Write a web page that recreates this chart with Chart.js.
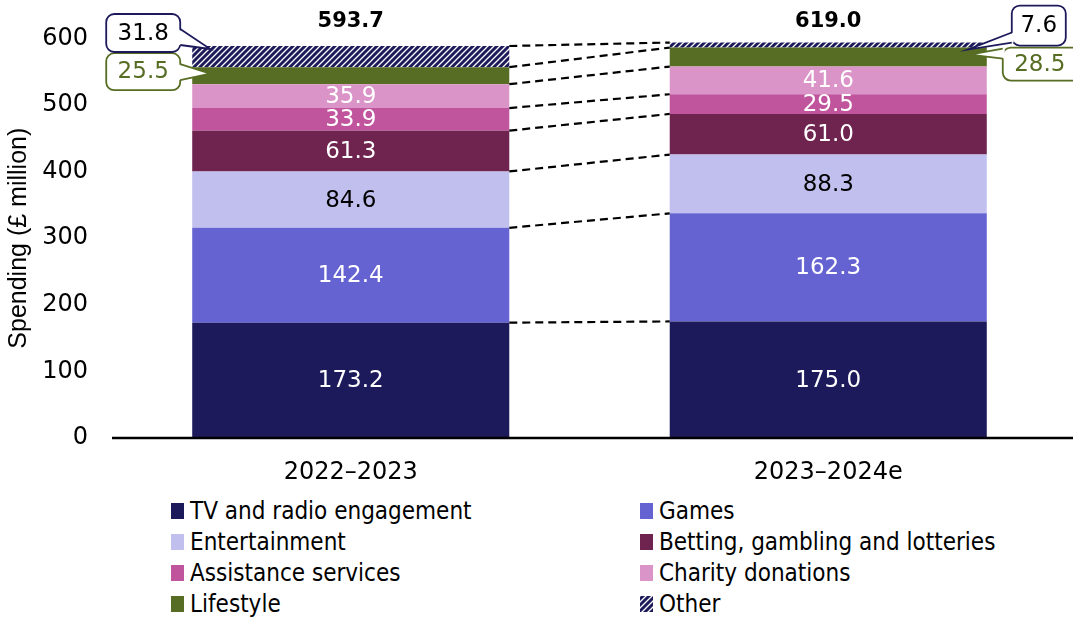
<!DOCTYPE html>
<html>
<head>
<meta charset="utf-8">
<script src="https://cdn.jsdelivr.net/npm/chart.js@4.4.1/dist/chart.umd.min.js"></script>
<style>
  body { margin: 0; background: #fff; font-family: "Liberation Sans", Arial, sans-serif; }
  #wrap { position: relative; width: 1073px; height: 617px; overflow: hidden; }
  #chartBox { position: absolute; left: 0; top: 0; width: 1073px; height: 490px; }
  #legend {
    position: absolute; left: 171px; top: 495px;
    display: grid; grid-template-columns: 469px 420px; grid-auto-rows: 31px;
    font-family: "DejaVu Sans Condensed", "DejaVu Sans", sans-serif; font-stretch: condensed;
    font-size: 24px; color: #000;
  }
  .item { display: flex; align-items: center; white-space: nowrap; }
  .sw { width: 13px; height: 16px; margin-right: 6px; flex: none; }
</style>
</head>
<body>
<div id="wrap">
  <div id="chartBox"><canvas id="spendChart"></canvas></div>
  <div id="legend"></div>
</div>
<script>
// spending by category, £ million
const years = ['2022\u20132023', '2023\u20132024e'];
const seriesNames = ['TV and radio engagement', 'Games', 'Entertainment', 'Betting, gambling and lotteries',
                     'Assistance services', 'Charity donations', 'Lifestyle', 'Other'];
const tvRadio = [173.2, 175.0];
const games = [142.4, 162.3];
const entertainment = [84.6, 88.3];
const betting = [61.3, 61.0];
const assistance = [33.9, 29.5];
const charity = [35.9, 41.6];
const lifestyle = [25.5, 28.5];
const other = [31.8, 7.6];
const totals = ['593.7', '619.0'];
const yTicks = [0, 100, 200, 300, 400, 500, 600];

const NAVY = '#1c1a5a';
const GREEN = '#576d23';
const NUM_FONT = '"DejaVu Sans", sans-serif';

// striped fill for "Other"
function makeStripes() {
    const c = document.createElement('canvas');
    c.width = 6; c.height = 6;
    const g = c.getContext('2d');
    g.fillStyle = NAVY;
    g.fillRect(0, 0, 6, 6);
    g.strokeStyle = '#fff';
    g.lineWidth = 1.3;
    g.beginPath();
    g.moveTo(-1, 7); g.lineTo(7, -1);
    g.moveTo(-4, 4); g.lineTo(4, -4);
    g.moveTo(2, 10); g.lineTo(10, 2);
    g.stroke();
    return c;
}
const stripeCanvas = makeStripes();
const stripes = document.getElementById('spendChart').getContext('2d').createPattern(stripeCanvas, 'repeat');

const values = [tvRadio, games, entertainment, betting, assistance, charity, lifestyle, other];
const colors = [NAVY, '#6563d2', '#c0bfee', '#6f234f', '#c0559e', '#db94c8', GREEN, stripes];
const labelColors = ['#fff', '#fff', '#000', '#fff', '#fff', '#fff', null, null];

Chart.defaults.font.family = '"Liberation Sans", Arial, sans-serif';
Chart.defaults.font.size = 25;
Chart.defaults.color = '#000';

// dashed links between matching segment tops
const linkPlugin = {
    id: 'links',
    afterDatasetsDraw(chart) {
        const ctx = chart.ctx;
        ctx.save();
        ctx.strokeStyle = '#000';
        ctx.lineWidth = 2.2;
        ctx.setLineDash([8, 5]);
        chart.data.datasets.forEach((ds, i) => {
            const els = chart.getDatasetMeta(i).data;
            const a = els[0], b = els[1];
            ctx.beginPath();
            ctx.moveTo(a.x + a.width / 2, a.y);
            ctx.lineTo(b.x - b.width / 2, b.y);
            ctx.stroke();
        });
        ctx.restore();
    }
};

// segment values, totals, axis line
const labelPlugin = {
    id: 'segLabels',
    afterDatasetsDraw(chart) {
        const ctx = chart.ctx;
        ctx.save();
        ctx.textAlign = 'center';
        ctx.textBaseline = 'middle';
        ctx.font = '23px ' + NUM_FONT;
        chart.data.datasets.forEach((ds, i) => {
            if (!labelColors[i]) return;
            ctx.fillStyle = labelColors[i];
            chart.getDatasetMeta(i).data.forEach((el, j) => {
                ctx.fillText(ds.data[j].toFixed(1), el.x, (el.y + el.base) / 2 + 1);
            });
        });
        ctx.fillStyle = '#000';
        ctx.font = 'bold 21px ' + NUM_FONT;
        chart.getDatasetMeta(0).data.forEach((el, j) => {
            ctx.fillText(totals[j], el.x, 22);
        });
        const y0 = chart.scales.y.getPixelForValue(0);
        ctx.lineWidth = 2.5;
        ctx.strokeStyle = '#000';
        ctx.beginPath();
        ctx.moveTo(chart.chartArea.left, y0);
        ctx.lineTo(chart.width, y0);
        ctx.stroke();
        ctx.restore();
    }
};

function drawCallout(ctx, c) {
    ctx.save();
    ctx.lineWidth = 1.8;
    ctx.strokeStyle = c.stroke;
    ctx.fillStyle = '#fff';
    ctx.beginPath();
    ctx.roundRect(c.x, c.y, c.w, c.h, 8);
    ctx.fill();
    ctx.stroke();
    const dx = c.side === 'right' ? -2 : 2;
    ctx.beginPath();
    ctx.moveTo(c.a[0] + dx, c.a[1]);
    ctx.lineTo(c.tip[0], c.tip[1]);
    ctx.lineTo(c.b[0] + dx, c.b[1]);
    ctx.closePath();
    ctx.fill();
    ctx.beginPath();
    ctx.moveTo(c.a[0], c.a[1]);
    ctx.lineTo(c.tip[0], c.tip[1]);
    ctx.lineTo(c.b[0], c.b[1]);
    ctx.stroke();
    ctx.fillStyle = c.textColor;
    ctx.font = '23px ' + NUM_FONT;
    ctx.textAlign = 'center';
    ctx.textBaseline = 'middle';
    ctx.fillText(c.text, c.tx, c.ty);
    ctx.restore();
}

// boxed labels for the two thin top segments
const calloutPlugin = {
    id: 'callouts',
    afterDraw(chart) {
        const ctx = chart.ctx;
        const lsEls = chart.getDatasetMeta(6).data;
        const otEls = chart.getDatasetMeta(7).data;

        // left bar: boxes sit to the left
        let ls = lsEls[0], ot = otEls[0];
        let edge = ls.x - ls.width / 2;
        let r = edge - 12;
        let lsTop = ls.y - 14;
        drawCallout(ctx, {
            side: 'right', x: r - 74, y: lsTop, w: 74, h: 37, stroke: GREEN, textColor: GREEN,
            a: [r, lsTop + 11], b: [r, lsTop + 27], tip: [edge + 18, (ls.y + ls.base) / 2 - 2],
            text: lifestyle[0].toFixed(1), tx: r - 37, ty: lsTop + 19
        });
        let otTop = ot.y - 32;
        drawCallout(ctx, {
            side: 'right', x: r - 74, y: otTop, w: 74, h: 38, stroke: NAVY, textColor: '#000',
            a: [r, otTop + 15], b: [r, otTop + 31], tip: [edge + 18, ot.y + 3],
            text: other[0].toFixed(1), tx: r - 37, ty: otTop + 20
        });

        // right bar: boxes sit to the right
        ls = lsEls[1]; ot = otEls[1];
        edge = ls.x + ls.width / 2;
        let l = edge + 16;
        lsTop = ls.y;
        drawCallout(ctx, {
            side: 'left', x: l, y: lsTop, w: 84, h: 33, stroke: GREEN, textColor: GREEN,
            a: [l, lsTop + 1], b: [l, lsTop + 11], tip: [edge - 17, ls.y + 7],
            text: lifestyle[1].toFixed(1), tx: l + 37, ty: lsTop + 17
        });
        l = edge + 25;
        otTop = ot.y - 37;
        drawCallout(ctx, {
            side: 'left', x: l, y: otTop, w: 54, h: 40, stroke: NAVY, textColor: '#000',
            a: [l, otTop + 27], b: [l, otTop + 37], tip: [edge - 19, ot.base + 2],
            text: other[1].toFixed(1), tx: l + 27, ty: otTop + 21
        });
    }
};

new Chart(document.getElementById('spendChart'), {
    type: 'bar',
    data: {
        labels: years,
        datasets: values.map((v, i) => ({
            label: seriesNames[i],
            data: v,
            backgroundColor: colors[i],
            borderWidth: 0,
            categoryPercentage: 1,
            barPercentage: 0.664
        }))
    },
    options: {
        responsive: true,
        maintainAspectRatio: false,
        animation: false,
        layout: { padding: { top: 38, right: 6, left: 0, bottom: 0 } },
        plugins: { legend: { display: false }, tooltip: { enabled: false } },
        scales: {
            x: {
                stacked: true,
                grid: { display: false, drawTicks: false, tickLength: 0 },
                border: { display: false },
                ticks: { padding: 20, font: { family: NUM_FONT, size: 24 } },
                afterFit(s) { s.height = 52; }
            },
            y: {
                stacked: true,
                min: 0, max: 600,
                grid: { display: false, drawTicks: false, tickLength: 0 },
                border: { display: false },
                ticks: { padding: 24, font: { family: NUM_FONT, size: 24 }, callback: v => String(v) },
                afterBuildTicks(s) { s.ticks = yTicks.map(v => ({ value: v })); },
                title: { display: true, text: 'Spending (\u00a3 million)', padding: { top: 4, bottom: 0 } },
                afterFit(s) { s.width = 112; }
            }
        }
    },
    plugins: [linkPlugin, labelPlugin, calloutPlugin]
});

// two-column legend
const legend = document.getElementById('legend');
seriesNames.forEach((name, i) => {
    const item = document.createElement('div');
    item.className = 'item';
    const sw = document.createElement('span');
    sw.className = 'sw';
    if (i === 7) sw.style.background = 'url(' + stripeCanvas.toDataURL() + ')';
    else sw.style.background = colors[i];
    const txt = document.createElement('span');
    txt.textContent = name;
    item.appendChild(sw);
    item.appendChild(txt);
    legend.appendChild(item);
});
</script>
</body>
</html>
